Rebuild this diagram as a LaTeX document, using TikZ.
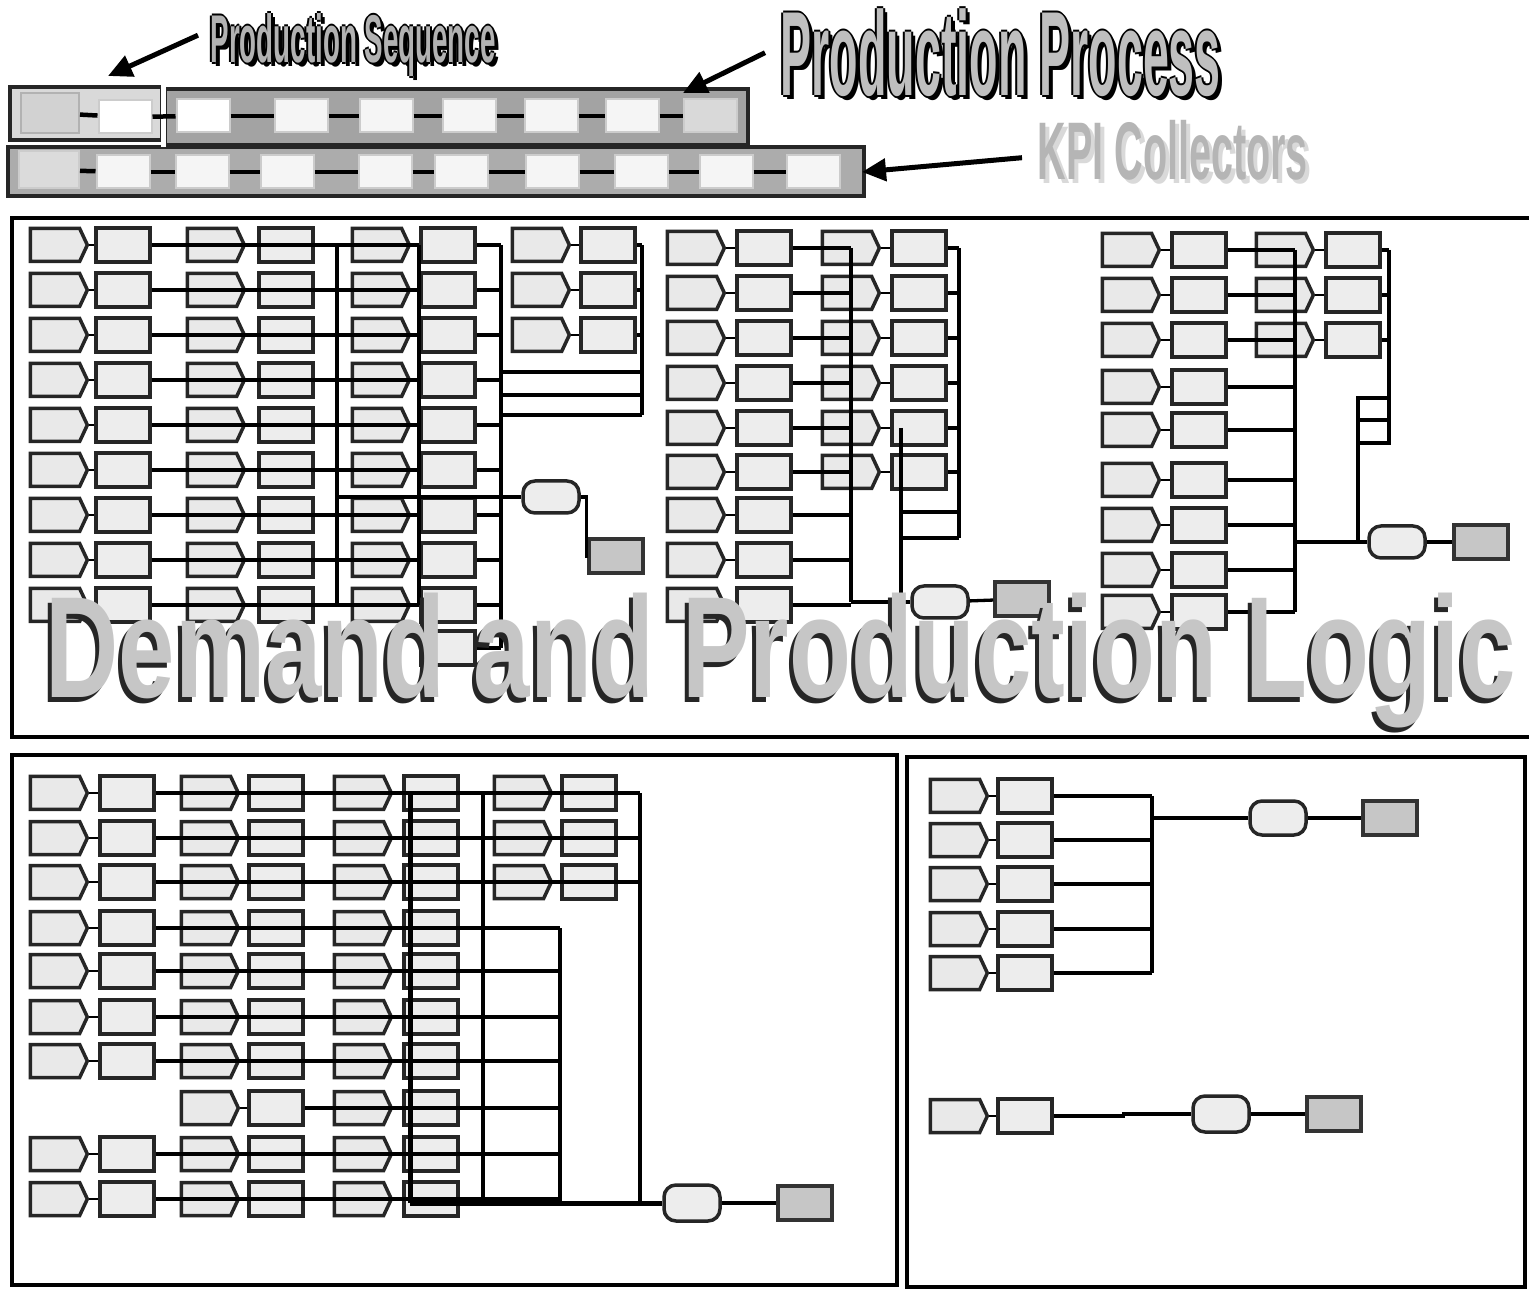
\documentclass[tikz,border=0pt]{standalone}
\usepackage{fontspec}
\usepackage{graphicx}
\newfontfamily\ttlfont{Liberation Sans}
\usetikzlibrary{shapes.symbols,arrows.meta,positioning}

% outlined title with a drop shadow
\newcommand\bigtitle[6]{%
  \foreach \dx/\dy [count=\k] in {4/4,-2/0,2/0,0/-2,0/2} {%
    \node[ttl, text=black, shift={(\dx,\dy)}] (#1-o\k) at #2 {\resizebox*{#3}{#4}{#6}};}
  \node[ttl, text=#5] (#1) at #2 {\resizebox*{#3}{#4}{#6}};}

\begin{document}
\begin{tikzpicture}[x=0.1mm, y=-0.1mm,
  cornertag/.style={path picture={\fill ([xshift=-1.1mm]path picture bounding box.north east)
      -- (path picture bounding box.north east) -- ([yshift=-1.1mm]path picture bounding box.north east) -- cycle;}},
  srcbox/.style={signal, signal to=east, signal pointer angle=130, draw=black!85, line width=0.35mm,
      fill=gray!17, minimum width=5.7mm, minimum height=3.3mm, inner sep=0pt},
  procbox/.style={rectangle, draw=black!85, line width=0.35mm, fill=gray!14, minimum width=5.4mm,
      minimum height=3.4mm, inner sep=0pt, cornertag},
  mergebox/.style={rectangle, rounded corners=1.2mm, draw=black!85, line width=0.35mm, fill=gray!14,
      minimum width=5.6mm, minimum height=3.2mm},
  sinkbox/.style={rectangle, draw=black!80, line width=0.35mm, fill=gray!45, minimum width=5.4mm,
      minimum height=3.4mm},
  hdrbox/.style={rectangle, draw=gray!40, line width=0.2mm, fill=gray!8, minimum width=5.3mm,
      minimum height=3.3mm, inner sep=0pt},
  link/.style={line width=0.22mm},
  wire/.style={line width=0.33mm},
  hline/.style={line width=0.45mm},
  band/.style={line width=0.35mm, draw=black!85},
  frame/.style={line width=0.35mm},
  ttl/.style={anchor=north west, inner sep=0pt, font=\ttlfont\bfseries},
  pointer/.style={line width=0.5mm, -{Triangle[length=2.4mm,width=2.2mm]}}]
\useasboundingbox (0,0) rectangle (1529,1293);

% ---------- header bands
\draw[band, fill=gray!30] (10,87) rectangle (162,140);
\draw[band, fill=gray!72] (165,89) rectangle (748,145);
\draw[band, fill=gray!65] (8,147) rectangle (864,196);
\draw[white, line width=0.45mm] (163.5,84) -- (163.5,147);

\node[hdrbox, fill=gray!35, draw=gray!60, minimum width=5.8mm, minimum height=4mm] (sq-l) at (50,113) {};
\node[hdrbox, fill=white, cornertag] (sq-b) at (125,117) {};
\foreach \i/\x in {1/203,2/301,3/386,4/469,5/551,6/632}
  \node[hdrbox] (pp\i) at (\x,116) {};
\node[hdrbox, fill=gray!30] (pp7) at (710,116) {};
\node[hdrbox, fill=white, cornertag] at (pp1) {};
\draw[hline] (sq-l) -- (sq-b);
\draw[hline] (sq-b) -- (pp1);
\foreach \i [count=\j from 2] in {1,...,6}
  \draw[hline] (pp\i) -- (pp\j);

\node[hdrbox, fill=gray!28, minimum width=6mm, minimum height=3.7mm] (kp0) at (49,170) {};
\foreach \i/\x in {1/123,2/202,3/287,4/385,5/461,6/552,7/641,8/726,9/813}
  \node[hdrbox] (kp\i) at (\x,172) {};
\foreach \i [count=\j from 1] in {0,...,8}
  \draw[hline] (kp\i) -- (kp\j);

% ---------- titles and pointers
\bigtitle{sq-ttl}{(210,13)}{28.5mm}{6.3mm}{gray!60}{Production Sequence}
\bigtitle{pp-ttl}{(780,8)}{44mm}{8.8mm}{gray!50}{Production Process}
\node[ttl, text=gray!30, shift={(4,4)}] (kp-sh) at (1037,120) {\resizebox*{27mm}{6mm}{KPI Collectors}};
\node[ttl, text=gray!58] (kp-ttl) at (1037,120) {\resizebox*{27mm}{6mm}{KPI Collectors}};

\coordinate (sq-tip) at (108,76);
\coordinate (pp-tip) at (683,93);
\coordinate (kp-tip) at (862,172);
\draw[pointer] ([shift={(-1.2mm,1mm)}]sq-ttl.west) -- (sq-tip);
\draw[pointer] ([xshift=-1.5mm]pp-ttl.west) -- (pp-tip);
\draw[pointer] ([shift={(-1.5mm,-0.7mm)}]kp-ttl.west) -- (kp-tip);

% ---------- panels
\draw[frame] (1529,218) -- (12,218) -- (12,737) -- (1529,737);
\draw[frame] (12,755) rectangle (897,1285);
\draw[frame] (907,757) rectangle (1525,1287);

% ---------- top panel, left group
\foreach \r/\y in {1/245,2/290,3/335,4/380,5/425,6/470,7/515,8/560,9/605} {
  \node[srcbox] (ga-s\r) at (55,\y) {};
  \node[procbox] (ga-p\r) at (123,\y) {};
  \node[srcbox] (gb-s\r) at (212,\y) {};
  \node[procbox] (gb-p\r) at (286,\y) {};
  \node[srcbox] (gc-s\r) at (377,\y) {};
  \node[procbox] (gc-p\r) at (448,\y) {};
}
\node[procbox] (gc-p10) at (448,648) {};
\foreach \r/\y in {1/245,2/290,3/335} {
  \node[srcbox] (gd-s\r) at (537,\y) {};
  \node[procbox] (gd-p\r) at (608,\y) {};
}
\node[mergebox] (mg1) at (551,497) {};
\node[sinkbox] (sk1) at (616,556) {};

\coordinate (ta-b1) at (337,245);
\coordinate (ta-b2) at (419,245);
\coordinate (ta-b3) at (501,245);
\coordinate (ta-b4) at (642,245);
\foreach \r in {1,...,9} {
  \draw[link] (ga-s\r) -- (ga-p\r);
  \draw[link] (gb-s\r) -- (gb-p\r);
  \draw[link] (gc-s\r) -- (gc-p\r);
  \draw[wire] (ga-p\r.east) -- (ga-p\r.east -| ta-b2);
  \draw[wire] (gc-p\r.east) -- (gc-p\r.east -| ta-b3);
}
\draw[wire] (gc-p10.east) -- (gc-p10.east -| ta-b3);
\foreach \r in {1,2,3} {
  \draw[link] (gd-s\r) -- (gd-p\r);
  \draw[wire] (gd-p\r.east) -- (gd-p\r.east -| ta-b4);
}
\draw[wire] (ta-b1) -- (ta-b1 |- ga-p9);
\draw[wire] (ta-b2) -- (ta-b2 |- ga-p9);
\draw[wire] (ta-b3) -- (ta-b3 |- gc-p10);
\draw[wire] (ta-b4) -- (ta-b4 |- 0,415);
\foreach \y in {372,395,415}
  \draw[wire] (ta-b3 |- 0,\y) -- (ta-b4 |- 0,\y);
\draw[wire] (ta-b1 |- mg1) -- (mg1);
\draw[wire] (mg1.east) -- ++(6,0) |- (sk1);

% ---------- top panel, middle group
\foreach \r/\y in {1/248,2/293,3/338,4/383,5/428,6/472,7/515,8/560,9/605} {
  \node[srcbox] (ha-s\r) at (692,\y) {};
  \node[procbox] (ha-p\r) at (764,\y) {};
}
\foreach \r/\y in {1/248,2/293,3/338,4/383,5/428,6/472} {
  \node[srcbox] (hb-s\r) at (847,\y) {};
  \node[procbox] (hb-p\r) at (919,\y) {};
}
\node[mergebox] (mg2) at (940,602) {};
\node[sinkbox] (sk2) at (1022,599) {};

\coordinate (tb-b1) at (851,248);
\coordinate (tb-b2) at (901,428);
\coordinate (tb-b3) at (959,248);
\foreach \r in {1,...,9} {
  \draw[link] (ha-s\r) -- (ha-p\r);
  \draw[wire] (ha-p\r.east) -- (ha-p\r.east -| tb-b1);
}
\foreach \r in {1,...,6} {
  \draw[link] (hb-s\r) -- (hb-p\r);
  \draw[wire] (hb-p\r.east) -- (hb-p\r.east -| tb-b3);
}
\draw[wire] (tb-b1) -- (tb-b1 |- mg2);
\draw[wire] (tb-b2) -- (tb-b2 |- mg2);
\draw[wire] (tb-b3) -- (tb-b3 |- 0,538);
\foreach \y in {512,538}
  \draw[wire] (tb-b2 |- 0,\y) -- (tb-b3 |- 0,\y);
\draw[wire] (tb-b1 |- mg2) -- (mg2);
\draw[wire] (mg2) -- (sk2);

% ---------- top panel, right group
\foreach \r/\y in {1/250,2/295,3/340,4/387,5/430,6/480,7/525,8/570,9/612} {
  \node[srcbox] (ia-s\r) at (1127,\y) {};
  \node[procbox] (ia-p\r) at (1199,\y) {};
}
\foreach \r/\y in {1/250,2/295,3/340} {
  \node[srcbox] (ib-s\r) at (1281,\y) {};
  \node[procbox] (ib-p\r) at (1353,\y) {};
}
\node[mergebox] (mg3) at (1397,542) {};
\node[sinkbox] (sk3) at (1481,542) {};

\coordinate (tc-b1) at (1295,250);
\coordinate (tc-b2) at (1389,250);
\coordinate (tc-l1) at (1358,398);
\coordinate (tc-l2) at (1389,443);
\foreach \r in {1,...,9} {
  \draw[link] (ia-s\r) -- (ia-p\r);
  \draw[wire] (ia-p\r.east) -- (ia-p\r.east -| tc-b1);
}
\foreach \r in {1,2,3} {
  \draw[link] (ib-s\r) -- (ib-p\r);
  \draw[wire] (ib-p\r.east) -- (ib-p\r.east -| tc-b2);
}
\draw[wire] (tc-b1) -- (tc-b1 |- ia-p9);
\draw[wire] (tc-b2) -- (tc-b2 |- tc-l1);
\draw[wire] (tc-l1) rectangle (tc-l2);
\draw[wire] (tc-l1 |- 0,420) -- (tc-l2 |- 0,420);
\draw[wire] (tc-l1 |- tc-l2) -- (tc-l1 |- mg3);
\draw[wire] (tc-b1 |- mg3) -- (mg3);
\draw[wire] (mg3) -- (sk3);

% ---------- bottom left panel
\foreach \r/\y in {1/793,2/838,3/882,4/928,5/971,6/1017,7/1061,9/1154,10/1199} {
  \node[srcbox] (ja-s\r) at (55,\y) {};
  \node[procbox] (ja-p\r) at (127,\y) {};
}
\foreach \r/\y in {1/793,2/838,3/882,4/928,5/971,6/1017,7/1061,8/1108,9/1154,10/1199} {
  \node[srcbox] (jb-s\r) at (206,\y) {};
  \node[procbox] (jb-p\r) at (276,\y) {};
  \node[srcbox] (jc-s\r) at (359,\y) {};
  \node[procbox] (jc-p\r) at (431,\y) {};
}
\foreach \r/\y in {1/793,2/838,3/882} {
  \node[srcbox] (jd-s\r) at (519,\y) {};
  \node[procbox] (jd-p\r) at (589,\y) {};
}
\node[mergebox, minimum height=3.6mm] (mg4) at (692,1203) {};
\node[sinkbox] (sk4) at (805,1203) {};

\coordinate (bl-b1) at (410,793);
\coordinate (bl-b2) at (483,793);
\coordinate (bl-b3) at (560,928);
\coordinate (bl-b4) at (640,793);
\foreach \r in {1,...,10} {
  \draw[link] (jb-s\r) -- (jb-p\r);
  \draw[link] (jc-s\r) -- (jc-p\r);
}
\foreach \r in {1,2,3} {
  \draw[link] (ja-s\r) -- (ja-p\r);
  \draw[link] (jd-s\r) -- (jd-p\r);
  \draw[wire] (ja-p\r.east) -- (ja-p\r.east -| bl-b4);
}
\foreach \r in {4,5,6,7,9,10} {
  \draw[link] (ja-s\r) -- (ja-p\r);
  \draw[wire] (ja-p\r.east) -- (ja-p\r.east -| bl-b3);
}
\draw[wire] (jb-p8.east) -- (jb-p8.east -| bl-b3);
\draw[line width=0.5mm] (bl-b1) -- (bl-b1 |- mg4);
\draw[wire] (bl-b2) -- (bl-b2 |- mg4);
\draw[wire] (bl-b3) -- (bl-b3 |- mg4);
\draw[wire] (bl-b4) -- (bl-b4 |- mg4);
\draw[line width=0.5mm] (bl-b1 |- mg4) -- (mg4);
\draw[wire] (mg4) -- (sk4);

% ---------- bottom right panel
\foreach \r/\y in {1/796,2/840,3/884,4/929,5/973} {
  \node[srcbox] (ka-s\r) at (955,\y) {};
  \node[procbox] (ka-p\r) at (1025,\y) {};
}
\node[mergebox, minimum height=3.4mm] (mg5) at (1278,818) {};
\node[sinkbox] (sk5) at (1390,818) {};
\coordinate (br-b1) at (1152,796);
\foreach \r in {1,...,5} {
  \draw[link] (ka-s\r) -- (ka-p\r);
  \draw[wire] (ka-p\r.east) -- (ka-p\r.east -| br-b1);
}
\draw[wire] (br-b1) -- (br-b1 |- ka-p5);
\draw[wire] (br-b1 |- mg5) -- (mg5);
\draw[wire] (mg5) -- (sk5);

\node[srcbox] (kb-s) at (955,1116) {};
\node[procbox] (kb-p) at (1025,1116) {};
\node[mergebox, minimum height=3.6mm] (mg6) at (1221,1114) {};
\node[sinkbox] (sk6) at (1334,1114) {};
\draw[link] (kb-s) -- (kb-p);
\draw[wire] (kb-p.east) -- ++(70,0) |- (mg6);
\draw[wire] (mg6) -- (sk6);

% ---------- overlay title
\node[ttl, text=black!85, shift={(-4,5)}] (dp-sh) at (45,592) {\resizebox*{147mm}{13.5mm}{Demand and Production Logic}};
\node[ttl, text=gray!45] (dp-ttl) at (45,592) {\resizebox*{147mm}{13.5mm}{Demand and Production Logic}};
\end{tikzpicture}
\end{document}
